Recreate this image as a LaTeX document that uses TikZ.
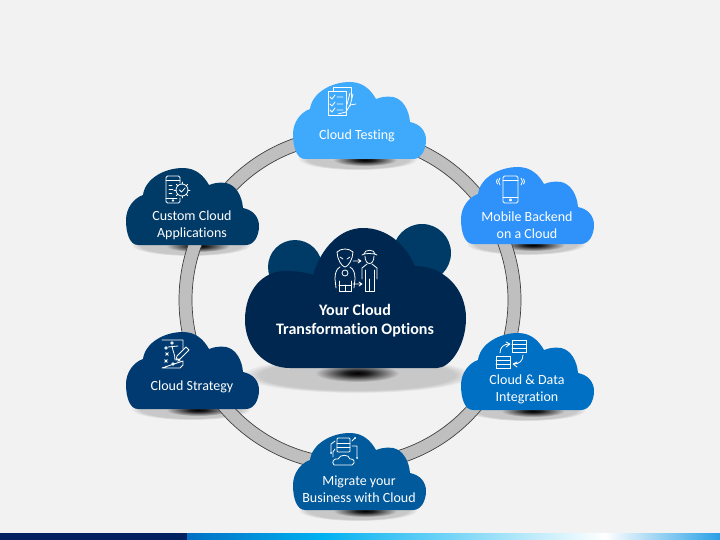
\documentclass[tikz,border=0pt]{standalone}
\usepackage{fontspec}
\setmainfont{Carlito}[Ligatures=NoCommon]
\definecolor{pagebg}{HTML}{F2F2F2}
\definecolor{ringgray}{HTML}{BFBFBF}
\definecolor{shadowgray}{HTML}{C8C8C8}
\definecolor{bignavy}{HTML}{00274F}
\definecolor{backnavy}{HTML}{003A66}
\definecolor{testblue}{HTML}{3FA9FB}
\definecolor{mobileblue}{HTML}{2E92FA}
\definecolor{datablue}{HTML}{0070C4}
\definecolor{migrateblue}{HTML}{005A9C}
\definecolor{strategyblue}{HTML}{003A70}
\definecolor{customblue}{HTML}{003A66}
\definecolor{bandnavy}{HTML}{002060}
\definecolor{bandsky}{HTML}{00B0F0}
\definecolor{bandend}{HTML}{28A0E6}
\pgfdeclareradialshading{softgray}{\pgfpoint{0bp}{0bp}}{color(0bp)=(shadowgray); color(21bp)=(shadowgray); color(25bp)=(pagebg); color(50bp)=(pagebg)}
\pgfdeclareradialshading{softdark}{\pgfpoint{0bp}{0bp}}{color(0bp)=(black); color(7bp)=(black!85!shadowgray); color(25bp)=(shadowgray); color(50bp)=(shadowgray)}
\tikzset{
    cloudlabel/.style={text=white, align=center, font=\fontsize{14}{17}\selectfont},
    iconline/.style={draw=white, line width=0.8pt, line cap=round, line join=round}
}
% outline of the six small clouds
\newcommand{\smallcloudpath}{(12,77) .. controls (4,77) and (0,66) .. (0,52)
    .. controls (0,40) and (8,30) .. (17,27)
    .. controls (19,11) and (38,0) .. (57,0)
    .. controls (70,0) and (78,8) .. (83,17)
    .. controls (88,15) and (94,14) .. (100,15)
    .. controls (110,17) and (116,28) .. (117,40)
    .. controls (127,42) and (133,49) .. (133,58)
    .. controls (133,68) and (128,77) .. (120,77) -- cycle}

\begin{document}
\begin{tikzpicture}[x=1pt, y=-1pt]
\useasboundingbox (0,0) rectangle (720,540);
\fill[pagebg] (0,0) rectangle (720,540);

% Bottom band
\fill[bandnavy] (0,533) rectangle (187,540);
\shade[left color=datablue, right color=bandsky] (187,533) rectangle (320,540);
\shade[left color=bandsky, right color=white] (320,533) rectangle (605,540);
\shade[left color=white, right color=bandend] (605,533) rectangle (720,540);

% Small cloud shadows
\foreach \px/\py in {293/82, 461/167, 461/333, 293/433, 126/332, 126/168} {
    \begin{scope}[shift={(\px,\py)}]
        \shade[shading=softgray] (65,77) ellipse [x radius=60, y radius=11];
        \shade[shading=softdark] (72,78) ellipse [x radius=32, y radius=6];
    \end{scope}
}
% Centre shadow
\shade[shading=softgray] (357,375) ellipse [x radius=116, y radius=18];
\shade[shading=softdark] (357,373) ellipse [x radius=42, y radius=9];

% Ring
\draw[fill=ringgray, draw=black!75, line width=0.7pt, even odd rule] (350,300) circle [radius=171] (350,300) circle [radius=158];

% Centre cloud
\fill[backnavy] (295,267) circle [radius=27];
\fill[backnavy] (422,253) circle [radius=29];
\begin{scope}[shift={(245,228)}]
\fill[bignavy] (45,140) .. controls (18,140) and (0,118) .. (0,92)
    .. controls (0,62) and (18,43) .. (40,43)
    .. controls (50,43) and (60,44) .. (68,47)
    .. controls (76,20) and (95,0) .. (118,0)
    .. controls (142,0) and (160,16) .. (170,38)
    .. controls (198,38) and (221,60) .. (221,90)
    .. controls (221,118) and (205,140) .. (192,140) -- cycle;
\end{scope}

% Small clouds
\foreach \px/\py/\col in {293/82/testblue, 461/167/mobileblue, 461/333/datablue, 293/433/migrateblue, 126/332/strategyblue, 126/168/customblue} {
    \begin{scope}[shift={(\px,\py)}]
        \fill[\col] \smallcloudpath;
    \end{scope}
}

% Labels
\node[cloudlabel, font=\fontsize{16}{19}\selectfont\bfseries] (centrelabel) at (355,321) {Your Cloud\\Transformation Options};
\node[cloudlabel] (testing) at (357,135.5) {Cloud Testing};
\node[cloudlabel] (mobile) at (527,225) {Mobile Backend\\on a Cloud};
\node[cloudlabel] (data) at (527,389.5) {Cloud \& Data\\Integration};
\node[cloudlabel] (migrate) at (359,489) {Migrate your\\Business with Cloud};
\node[cloudlabel] (strategy) at (192,387) {Cloud Strategy};
\node[cloudlabel] (custom) at (192,225.5) {Custom Cloud\\Applications};

% Centre icon: alien
\draw[iconline] (337,252) .. controls (341,248) and (349,248) .. (353,252) .. controls (353,259) and (348,267) .. (345,267) .. controls (342,267) and (337,259) .. (337,252) -- cycle;
\draw[iconline] (340,257) -- (343,259) (350,257) -- (347,259);
\draw[iconline] (340,267) .. controls (336,269) and (335,274) .. (335,279) -- (336,288) (350,267) .. controls (354,269) and (355,274) .. (355,279) -- (354,288);
\draw[iconline] (345,273) circle [radius=3];
\draw[iconline] (339,281) -- (339,291) -- (351,291) -- (351,281) (339,285) -- (351,285) (345,285) -- (345,291);
% Centre icon: person
\draw[iconline] (362,255) .. controls (364,253) and (374,253) .. (377,255) (364,254) .. controls (364,249) and (375,249) .. (375,254);
\draw[iconline] (365,256) .. controls (365,266) and (374,266) .. (374,256);
\draw[iconline] (367,264) -- (362,268) -- (362,279) (372,264) -- (377,268) -- (377,279);
\draw[iconline] (365,270) -- (365,291) -- (374,291) -- (374,270) (369.5,279) -- (369.5,291);
% Centre icon: arrows
\draw[iconline] (353,261) -- (361,261) (358,259) -- (361,261) -- (358,263);
\draw[iconline] (353,284) -- (362,284) (359,282) -- (362,284) -- (359,286);

% Testing icon
\draw[iconline] (328,91) rectangle (346,115);
\draw[iconline] (333,91) -- (333,87) -- (351,87) -- (351,98);
\foreach \yy in {97,104,110} {
    \draw[iconline] (330,\yy) -- (332,\yy+2) -- (335,\yy-2) (337,\yy) -- (343,\yy);
}
\draw[iconline] (350,93) -- (346,108) (353,94) -- (350,106);
\draw[iconline] (356,104) -- (350,105) -- (346,112) -- (338,114);

% Mobile icon
\draw[iconline, rounded corners=1.5pt] (503,176) rectangle (518,203);
\draw[iconline] (503,180) -- (518,180) (503,197) -- (518,197);
\draw[iconline] (510.5,200) circle [radius=1.2];
\draw[iconline] (500,178) .. controls (498,180) and (498,183) .. (500,185);
\draw[iconline] (497.5,179) .. controls (496,181) and (496,182) .. (497.5,184);
\draw[iconline] (521,178) .. controls (523,180) and (523,183) .. (521,185);
\draw[iconline] (523.5,179) .. controls (525,181) and (525,182) .. (523.5,184);

% Data icon
\foreach \bx/\by in {512/340, 496/356} {
    \draw[iconline] (\bx,\by) rectangle (\bx+14,\by+12.5);
    \draw[iconline] (\bx,\by+4) -- (\bx+14,\by+4) (\bx,\by+8) -- (\bx+14,\by+8);
}
\draw[iconline] (500,353) .. controls (500,347) and (504,344) .. (509,344) (506,342) -- (510,344) -- (506,347);
\draw[iconline] (523,355) .. controls (523,361) and (519,364) .. (514,364) (517,362) -- (513,364) -- (517,367);

% Migrate icon
\draw[iconline, rounded corners=1pt] (337,438) rectangle (350,452);
\draw[iconline] (337,443) -- (350,443) (337,447.5) -- (350,447.5);
\draw[iconline] (334,465) .. controls (331,462) and (334,458) .. (338,459) .. controls (340,454) and (349,454) .. (350,459) .. controls (354,458) and (356,463) .. (352,465) -- cycle;
\draw[iconline] (335,441) -- (331,444) -- (331,453) (352,441) -- (355,438) (352,446) -- (357,446) -- (357,458) (335,449) -- (333,452) -- (333,457);
\fill[white] (355,438) circle [radius=1] (331,453) circle [radius=1] (357,458) circle [radius=1];

% Strategy icon
\draw[iconline] (162,340) -- (183,340) -- (183,349) (183,361) -- (183,365) -- (180,368) -- (162,368) -- cycle;
\foreach \cx/\cy in {172/343, 166/348, 173/364} {
    \draw[iconline] (\cx,\cy) circle [radius=1.3];
}
\foreach \cx/\cy in {167/354, 179/360, 166/361} {
    \draw[iconline] (\cx-1.3,\cy-1.3) -- (\cx+1.3,\cy+1.3) (\cx-1.3,\cy+1.3) -- (\cx+1.3,\cy-1.3);
}
\draw[iconline] (172,346) .. controls (173,352) and (175,354) .. (175,360) (168,347) -- (178,346);
\draw[iconline] (186,347) -- (177,356) -- (176,360) -- (180,359) -- (189,350) -- cycle;

% Custom icon
\draw[iconline, rounded corners=1.5pt] (180,183) -- (180,176) -- (166,176) -- (166,203) -- (180,203) -- (180,198);
\draw[iconline] (166,180) -- (180,180) (166,198) -- (177,198);
\draw[iconline] (173,200.5) circle [radius=0.8];
\draw[iconline] (169,185) -- (172,185) (169,189) -- (173,189) (169,193) -- (172,193);
\draw[iconline] (182,190) circle [radius=6];
\foreach \a in {0,45,...,315} {
    \draw[iconline] ({182+6*cos(\a)},{190+6*sin(\a)}) -- ({182+8*cos(\a)},{190+8*sin(\a)});
}
\draw[iconline] (179.5,190) -- (181.5,192) -- (185,188);
\end{tikzpicture}
\end{document}
